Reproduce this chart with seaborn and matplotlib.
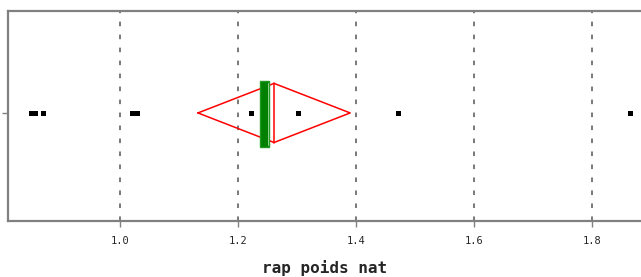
import numpy as np
import pandas as pd
import seaborn as sns
import matplotlib.pyplot as plt
from matplotlib.patches import Rectangle

rap_poids_nat = [0.849, 0.856, 0.869, 1.020, 1.029, 1.222, 1.301, 1.471, 1.864]

# summary marks as drawn on the chart
mean_val = 1.261
ci_low, ci_high = 1.132, 1.390
median_val = 1.245
median_lo, median_hi = 1.237, 1.253

ticks = [1.0, 1.2, 1.4, 1.6, 1.8]
tick_labels = ["1.0", "1.2", "1.4", "1.6", "1.8"]

sns.set_style("white")
plt.rcParams['font.family'] = ['DejaVu Sans Mono', 'DejaVu Sans']

fig = plt.figure(figsize=(6.41, 2.77), dpi=100)
ax = fig.add_axes([8 / 641, 1 - 221 / 277, 633 / 641, 210 / 277])

df = pd.DataFrame({"rap poids nat": rap_poids_nat})
sns.stripplot(data=df, x="rap poids nat", jitter=False, marker="s", color="black",
              size=3.6, linewidth=0, ax=ax, zorder=4)

# confidence diamond for the mean
dh = 0.29
ax.plot([ci_low, mean_val, ci_high, mean_val, ci_low], [0, dh, 0, -dh, 0],
        color="red", lw=1.1, zorder=3)
ax.plot([mean_val, mean_val], [-dh, dh], color="red", lw=1.1, zorder=3)

# median bar
ax.add_patch(Rectangle((median_lo, -0.33), median_hi - median_lo, 0.64,
                       facecolor="green", edgecolor="#229922", lw=1.0, zorder=3))
ax.plot([median_hi - 0.003, median_hi - 0.003], [-0.31, 0.29], color="#aaddaa", lw=0.6, zorder=3)

ax.set_xlim(0.810, 1.883)
ax.set_ylim(-1.06, 1.0)
ax.set_xticks(ticks)
ax.set_xticklabels(tick_labels, fontsize=7.5)
ax.set_yticks([0])
ax.set_yticklabels([""])
ax.grid(axis="x", color="#555555", linestyle=(0, (3, 5.5)), lw=1.1)
ax.set_axisbelow(True)

for side in ["left", "bottom", "top"]:
    ax.spines[side].set_color("#808080")
    ax.spines[side].set_linewidth(1.6)
ax.spines["right"].set_visible(False)
ax.tick_params(axis="both", direction="out", length=4, width=1.0, color="#808080",
               bottom=True, left=True, pad=7)
ax.set_xlabel("rap poids nat", fontsize=11.5, fontweight="bold", labelpad=10)
ax.set_ylabel("")

fig.savefig("out.png", dpi=100)
